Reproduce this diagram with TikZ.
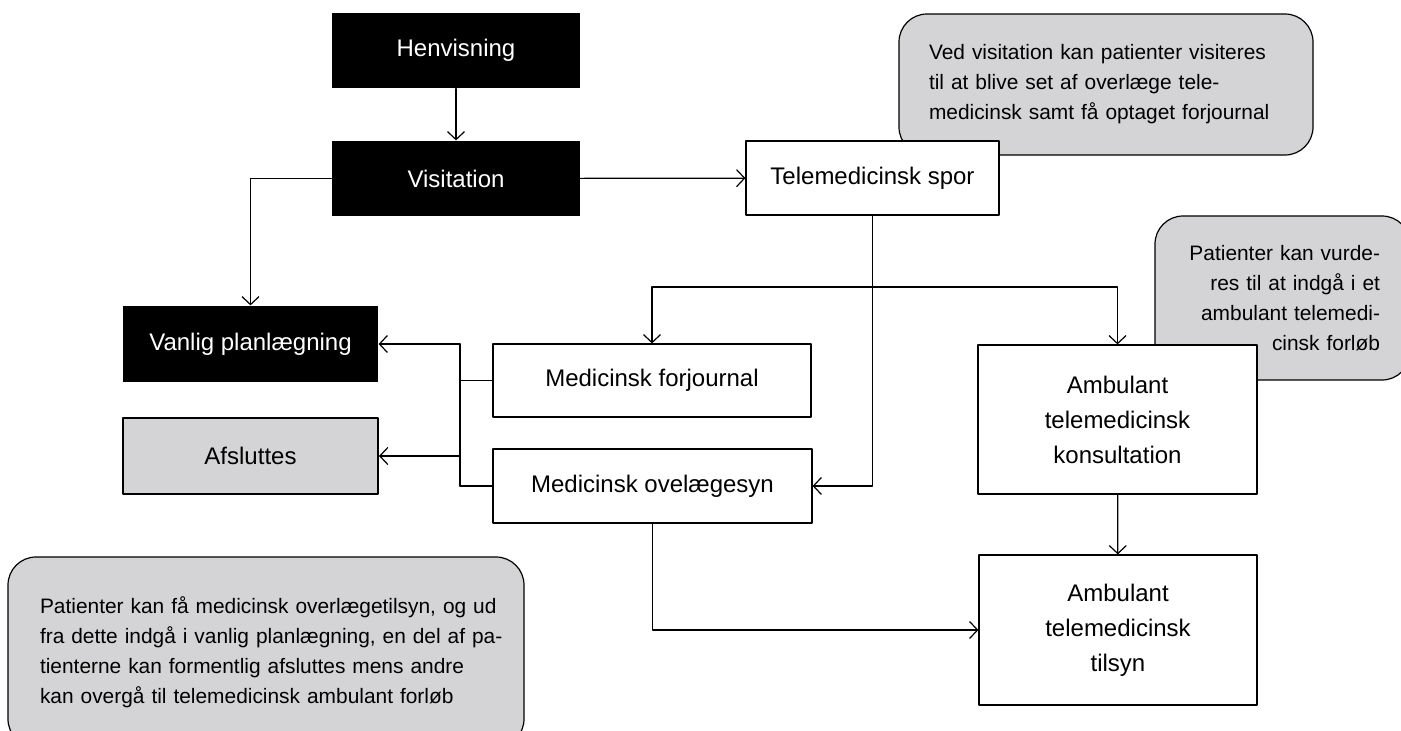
\documentclass[tikz,border=0pt]{standalone}
\usepackage{fontspec}
\setmainfont{Liberation Sans}
\usetikzlibrary{arrows.meta}
\newcommand\flowfont{\fontsize{24}{35}\selectfont}
\newcommand\notefont{\fontsize{20.9}{30}\selectfont}
\definecolor{notegray}{RGB}{212,212,214}
\begin{document}
\begin{tikzpicture}[x=1pt, y=-1pt, line cap=round, line join=round, line width=1.2pt, >={Straight Barb[length=8pt,width=17pt]}]
	\tikzset{black box/.style={fill=black, text=white, font=\flowfont, inner sep=0pt},
		white box/.style={draw, fill=white, font=\flowfont, inner sep=0pt, align=center},
		note/.style={draw, fill=notegray, rounded corners=28pt, font=\notefont, inner xsep=30pt, inner ysep=0pt}}
	\useasboundingbox (0,0) rectangle (1401,731);
	% notes first, the boxes lie on top of them
	\node[note, minimum width=414, minimum height=141, text width=354, align=left] (visitnote) at (1106,84.5) {\mbox{Ved visitation kan patienter visiteres}\\\mbox{til at blive set af overlæge tele-}\\\mbox{medicinsk samt få optaget forjournal}};
	\node[note, minimum width=255, minimum height=164, text width=195, align=right] (ambnote) at (1282.5,298) {\mbox{Patienter kan vurde-}\\\mbox{res til at indgå i et}\\\mbox{ambulant telemedi-}\\\mbox{cinsk forløb}};
	\node[note, inner xsep=32pt, minimum width=516, minimum height=190, text width=452, align=left] (overnote) at (266,652) {\mbox{Patienter kan få medicinsk overlægetilsyn, og ud}\\\mbox{fra dette indgå i vanlig planlægning, en del af pa-}\\\mbox{tienterne kan formentlig afsluttes mens andre}\\\mbox{kan overgå til telemedicinsk ambulant forløb}};
	% boxes
	\node[black box, minimum width=248, minimum height=75] (henv) at (456,50.5) {Henvisning};
	\node[black box, minimum width=248, minimum height=75] (visit) at (456,178.5) {Visitation};
	\node[white box, minimum width=253, minimum height=74] (tele) at (872.5,178) {Telemedicinsk spor};
	\node[black box, minimum width=255, minimum height=76] (vanlig) at (250.5,344) {Vanlig planlægning};
	\node[white box, fill=notegray, line width=2pt, minimum width=255, minimum height=76] (afsl) at (250.5,456) {Afsluttes};
	\node[white box, minimum width=318, minimum height=73] (forj) at (652,380.5) {Medicinsk forjournal};
	\node[white box, minimum width=319, minimum height=74] (ovel) at (652.5,486) {Medicinsk ovelægesyn};
	\node[white box, minimum width=279, minimum height=149] (konsult) at (1117.5,419.5) {Ambulant\\telemedicinsk\\konsultation};
	\node[white box, minimum width=278, minimum height=150] (tilsyn) at (1118,630) {Ambulant\\telemedicinsk\\tilsyn};
	% connectors
	\coordinate (fork) at (872.5,287);
	\coordinate (bus) at (460,344);
	\draw[->] (henv) -- (visit);
	\draw[->] (visit) -- (tele);
	\draw[->] (visit.west) -| (vanlig.north);
	\draw[->] (tele.south) |- (ovel.east);
	\draw[->] (fork) -| (forj.north);
	\draw[->] (fork) -| (konsult.north);
	\draw (forj.west) -- (forj.west -| bus);
	\draw (ovel.west) -- (ovel.west -| bus);
	\draw (bus) -- (bus |- ovel.west);
	\draw[->] (bus) -- (vanlig.east);
	\draw[->] (bus |- afsl.east) -- (afsl.east);
	\draw[->] (konsult) -- (tilsyn);
	\draw[->] (ovel.south) |- (tilsyn.west);
\end{tikzpicture}
\end{document}
